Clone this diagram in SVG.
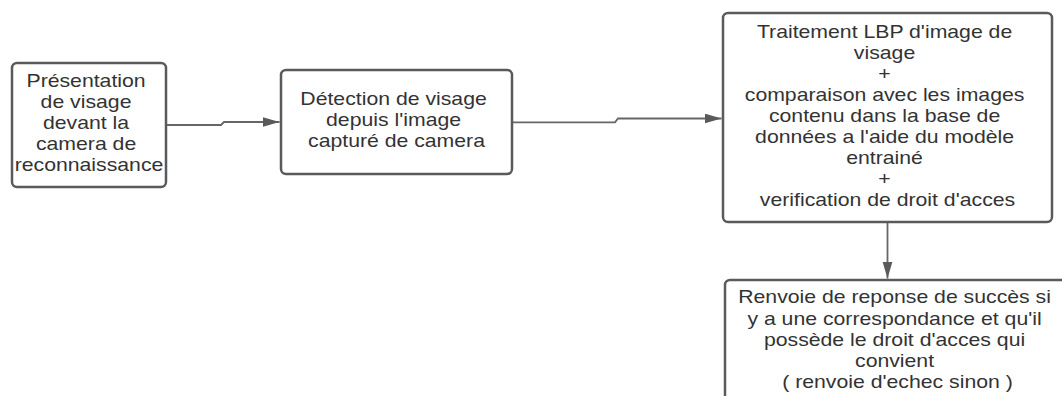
<svg xmlns="http://www.w3.org/2000/svg" width="1062" height="396" viewBox="0 0 1062 396">
  <style>
    .box { fill: #ffffff; stroke: #5a5a5a; stroke-width: 2.5; }
    .lbl { font-family: "Liberation Sans", Arial, sans-serif; font-size: 18px; fill: #333333; text-anchor: middle; }
    .link { fill: none; stroke: #666666; stroke-width: 1.8; }
  </style>
  <defs>
    <marker id="arrow" markerUnits="userSpaceOnUse" markerWidth="18" markerHeight="12" refX="17" refY="5" orient="auto">
      <path d="M0,0 L17,5 L0,10 z" fill="#5a5a5a"/>
    </marker>
  </defs>
  <rect width="1062" height="396" fill="#ffffff"/>

  <!-- connectors -->
  <g id="connectors">
    <path class="link" d="M166,125 H221 L224,122 H279.5" marker-end="url(#arrow)"/>
    <path class="link" d="M512,122.3 H615 L618,118.5 H721.5" marker-end="url(#arrow)"/>
    <path class="link" d="M887.5,223 V278.5" marker-end="url(#arrow)"/>
  </g>

  <!-- step 1 -->
  <g id="presentation">
    <rect class="box" x="12" y="63" width="154" height="124" rx="5"/>
    <text class="lbl" transform="translate(89 0) scale(1.18 1)">
      <tspan x="0" y="87.3">Présentation</tspan>
      <tspan x="0" y="108.3">de visage</tspan>
      <tspan x="0" y="129.3">devant la</tspan>
      <tspan x="0" y="150.3">camera de</tspan>
      <tspan x="0" y="171.3">reconnaissance</tspan>
    </text>
  </g>

  <!-- step 2 -->
  <g id="detection">
    <rect class="box" x="281" y="70" width="231" height="104" rx="5"/>
    <text class="lbl" transform="translate(396.5 0) scale(1.18 1)">
      <tspan x="0" y="105">Détection de visage</tspan>
      <tspan x="0" y="126">depuis l'image</tspan>
      <tspan x="0" y="147">capturé de camera</tspan>
    </text>
  </g>

  <!-- step 3 -->
  <g id="traitement">
    <rect class="box" x="723" y="13" width="329" height="209" rx="5"/>
    <text class="lbl" transform="translate(887.5 0) scale(1.18 1)">
      <tspan x="0" y="38.3">Traitement LBP d'image de</tspan>
      <tspan x="0" y="59.3">visage</tspan>
      <tspan x="0" y="80.3">+</tspan>
      <tspan x="0" y="101.3">comparaison avec les images</tspan>
      <tspan x="0" y="122.3">contenu dans la base de</tspan>
      <tspan x="0" y="143.3">données a l'aide du modèle</tspan>
      <tspan x="0" y="164.3">entrainé</tspan>
      <tspan x="0" y="185.3">+</tspan>
      <tspan x="0" y="206.3">verification de droit d'acces</tspan>
    </text>
  </g>

  <!-- step 4 -->
  <g id="reponse">
    <rect class="box" x="725" y="280" width="346" height="140" rx="5"/>
    <text class="lbl" transform="translate(897.5 0) scale(1.18 1)">
      <tspan x="0" y="303.5">Renvoie de reponse de succès si</tspan>
      <tspan x="0" y="324.6">y a une correspondance et qu'il</tspan>
      <tspan x="0" y="345.7">possède le droit d'acces qui</tspan>
      <tspan x="0" y="366.8">convient</tspan>
      <tspan x="0" y="387.9">( renvoie d'echec sinon )</tspan>
    </text>
  </g>
</svg>
